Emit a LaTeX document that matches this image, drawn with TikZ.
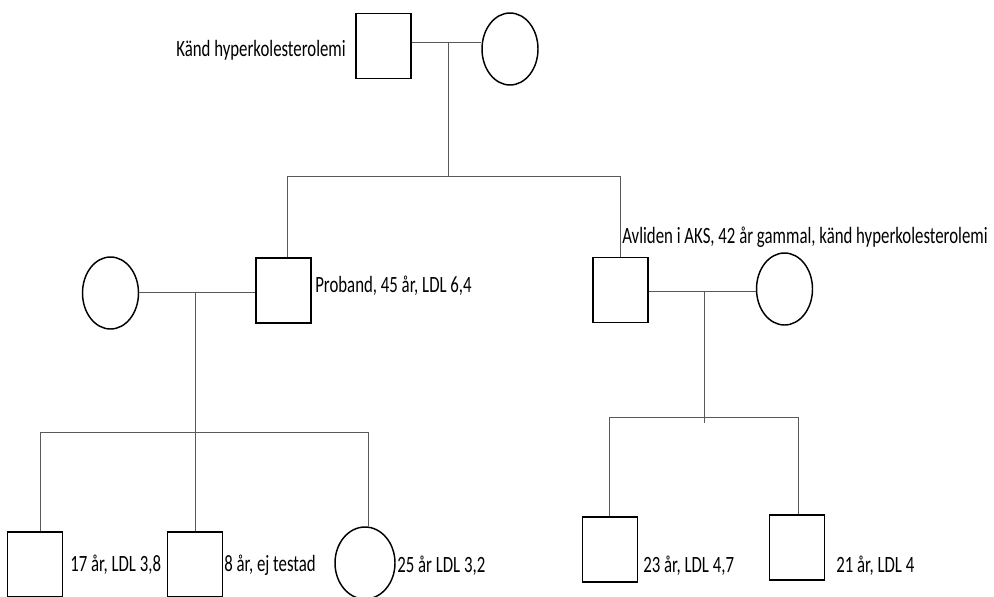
\documentclass[tikz,border=0pt]{standalone}
\usepackage{fontspec}
\setmainfont{Carlito}
\newfontfamily\lblfont[FakeStretch=0.72]{Carlito}
\usetikzlibrary{shapes.geometric}

\begin{document}
\begin{tikzpicture}[x=0.75pt,y=-0.75pt]
      \tikzset{male/.style={draw,line width=1.1pt,rectangle,minimum width=41pt,minimum height=49pt,inner sep=0pt},
        female/.style={draw,line width=1.1pt,ellipse,minimum width=42pt,minimum height=54pt,inner sep=0pt},
        txt/.style={inner sep=0pt,anchor=base west,font=\lblfont\fontsize{17.5}{20}\selectfont},
        rel/.style={draw=black!65,line width=0.7pt}}
      \useasboundingbox (0,0) rectangle (994,596);
      % generation I
      \node[male] (gf) at (383.5,46) {};
      \node[female] (gm) at (510,49) {};
      \node[txt,anchor=base east] (lgf) at (346,56) {Känd hyperkolesterolemi};
      % generation II
      \node[male] (pb) at (283.5,290.5) {};
      \node[female] (pw) at (110.5,293) {};
      \node[txt] (lpb) at (315,292.5) {Proband, 45 år, LDL 6,4};
      \node[male] (br) at (620.5,290) {};
      \node[female] (bw) at (784.5,289) {};
      \node[txt] (lbr) at (622,243) {Avliden i AKS, 42 år gammal, känd hyperkolesterolemi};
      % generation III
      \node[male] (c1) at (35,564.5) {};
      \node[male] (c2) at (195,564.5) {};
      \node[female,minimum width=45pt] (c3) at (365,563) {};
      \node[male] (k1) at (610,549.5) {};
      \node[male] (k2) at (797,547.5) {};
      \node[txt] (lc1) at (70,571) {17 år, LDL 3,8};
      \node[txt] (lc2) at (224,571) {8 år, ej testad};
      \node[txt] (lc3) at (397,572) {25 år LDL 3,2};
      \node[txt] (lk1) at (643,572) {23 år, LDL 4,7};
      \node[txt] (lk2) at (836,572) {21 år, LDL 4};
      % couples and sibships
      \coordinate (m1) at (448,42);
      \coordinate (s1l) at (287,176);
      \coordinate (s1r) at (620,176);
      \path[rel] (gf.east |- m1) -- (gm.west |- m1);
      \path[rel] (m1) -- (m1 |- s1l);
      \path[rel] (pb.north -| s1l) -- (s1l) -- (s1r) -- (br.north -| s1r);
      \coordinate (m2) at (195,292);
      \coordinate (s2l) at (40,432);
      \coordinate (s2r) at (368,432);
      \path[rel] (pw.east |- m2) -- (pb.west |- m2);
      \path[rel] (m2) -- (c2.north -| m2);
      \path[rel] (c1.north -| s2l) -- (s2l) -- (s2r) -- (c3.north -| s2r);
      \coordinate (m3) at (704,291);
      \coordinate (s3l) at (609,417);
      \coordinate (s3r) at (798,417);
      \path[rel] (br.east |- m3) -- (bw.west |- m3);
      \path[rel] (m3) -- (704,423);
      \path[rel] (k1.north -| s3l) -- (s3l) -- (s3r) -- (k2.north -| s3r);
      \end{tikzpicture}
\end{document}
